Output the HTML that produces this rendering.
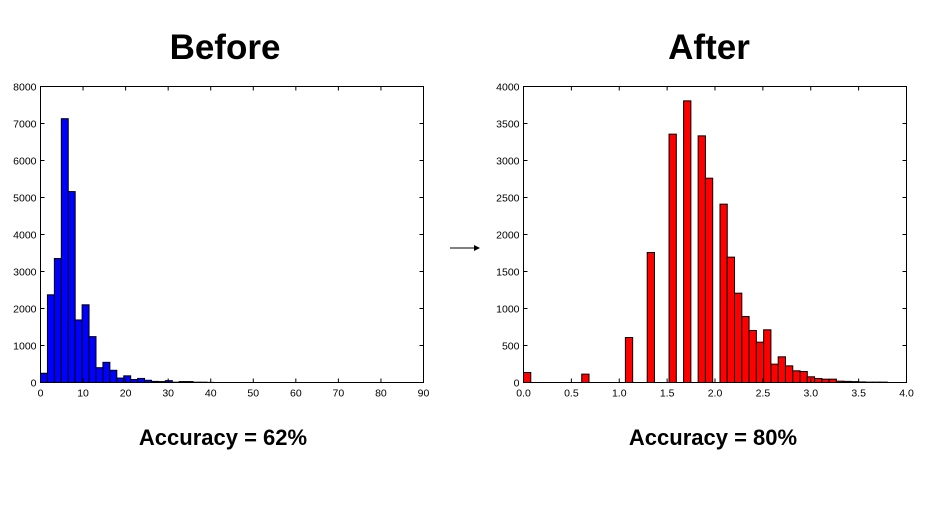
<!DOCTYPE html>
<html><head><meta charset="utf-8"><style>
body{margin:0;background:#fff;}
svg text{font-family:"Liberation Sans",sans-serif;}
</style></head><body>
<svg id="root" width="936" height="506" xmlns="http://www.w3.org/2000/svg">
<text x="225" y="59" font-size="35" font-weight="bold" text-anchor="middle">Before</text>
<text x="709" y="59" font-size="35" font-weight="bold" text-anchor="middle">After</text>
<text x="223" y="445" font-size="22" font-weight="bold" text-anchor="middle">Accuracy = 62%</text>
<text x="713" y="445" font-size="22" font-weight="bold" text-anchor="middle">Accuracy = 80%</text>
<g><line x1="450" y1="248" x2="475" y2="248" stroke="#000" stroke-width="1"/><polygon points="474,245 480,248 474,251" fill="#000"/></g>
<g id="left"></g>
<g id="right"></g>
</svg>
<script>
const leftCounts=[250,2370,3350,7130,5160,1690,2100,1240,400,545,330,120,180,80,110,60,30,25,50,8,25,25,8,8,3,0,0,0,0,0,0,0,0,0,0,0,0,0,0,0,0,0,0,0,0,0,0,0,0,0];
const leftBinWidth=1.63;
const leftXTicks=[0,10,20,30,40,50,60,70,80,90];
const leftYTicks=[0,1000,2000,3000,4000,5000,6000,7000,8000];
const rightCounts=[135,0,0,0,0,0,0,0,113,0,0,0,0,0,608,0,0,1757,0,0,3356,0,3806,0,3333,2761,0,2410,1694,1207,892,703,545,712,248,347,225,158,149,77,54,45,45,18,15,12,8,5,5,5];
const rightBinWidth=0.076;
const rightXTicks=[0,0.5,1.0,1.5,2.0,2.5,3.0,3.5,4.0];
const rightYTicks=[0,500,1000,1500,2000,2500,3000,3500,4000];
const NS="http://www.w3.org/2000/svg";
function mk(tag,attrs,parent){const e=document.createElementNS(NS,tag);for(const k in attrs)e.setAttribute(k,attrs[k]);parent.appendChild(e);return e;}
function draw(g,counts,bw,xt,yt,xmax,ymax,color,x0,x1,y0,y1,fmt){
  const sx=v=>x0+(v/xmax)*(x1-x0), sy=v=>y1-(v/ymax)*(y1-y0);
  counts.forEach((c,i)=>{ if(c<=0)return;
    const r=mk('rect',{x:sx(i*bw),y:sy(c),width:sx((i+1)*bw)-sx(i*bw),height:y1-sy(c),fill:color,stroke:'#000','stroke-width':1},g);
    
    
  });
  const f=mk('rect',{x:x0,y:y0,width:x1-x0,height:y1-y0,fill:'none',stroke:'#000','stroke-width':1},g);
  
  
  xt.forEach(v=>{const x=sx(v);
    mk('line',{x1:x,y1:y1,x2:x,y2:y1-4,stroke:'#000'},g);mk('line',{x1:x,y1:y0,x2:x,y2:y0+4,stroke:'#000'},g);
    const t=mk('text',{x:x,y:y1+14,'font-size':10.5,'text-anchor':'middle'},g);t.textContent=fmt(v);
    
    });
  yt.forEach(v=>{const y=sy(v);
    mk('line',{x1:x0,y1:y,x2:x0+4,y2:y,stroke:'#000'},g);mk('line',{x1:x1,y1:y,x2:x1-4,y2:y,stroke:'#000'},g);
    const t=mk('text',{x:x0-4,y:y+4,'font-size':10.5,'text-anchor':'end'},g);t.textContent=v;
    
    });
}
draw(document.getElementById('left'),leftCounts,leftBinWidth,leftXTicks,leftYTicks,90,8000,'#0000ff',40.5,423.5,86.5,382.5,v=>String(v));
draw(document.getElementById('right'),rightCounts,rightBinWidth,rightXTicks,rightYTicks,4,4000,'#ff0000',523.5,906.5,86.5,382.5,v=>v.toFixed(1));
</script>
</body></html>
